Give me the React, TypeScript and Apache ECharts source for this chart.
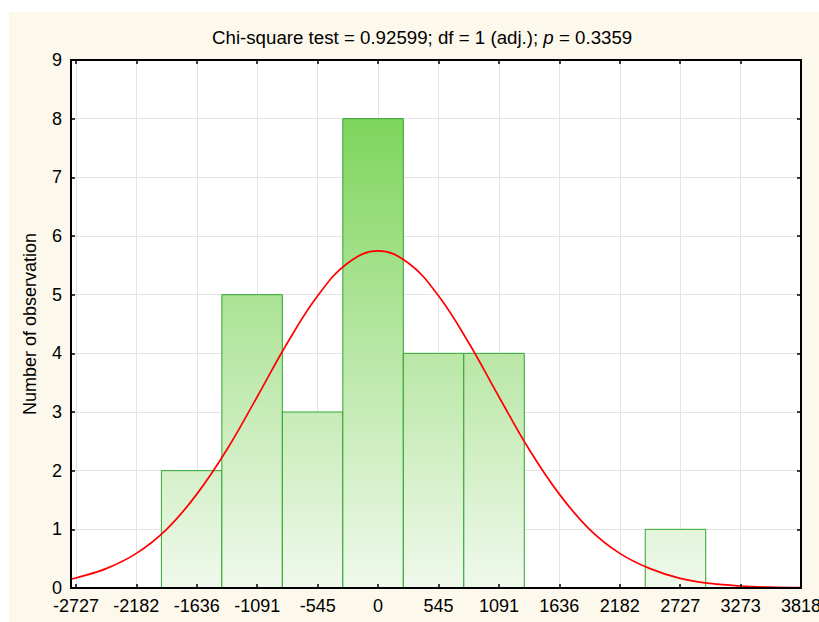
import React, { useEffect, useRef } from "react";
import * as echarts from "echarts";

// Histogram bins (class limits) and observed counts
const binStarts = [-1956, -1410, -864, -318, 228, 774, 1320, 1866, 2412];
const binEnds = [-1410, -864, -318, 228, 774, 1320, 1866, 2412, 2958];
const counts = [2, 5, 3, 8, 4, 4, 0, 0, 1];

// Tick labels
const xTicks = [-2727, -2182, -1636, -1091, -545, 0, 545, 1091, 1636, 2182, 2727, 3273, 3818];
const X_MIN = -2772;
const X_MAX = 3818;
const Y_MIN = 0;
const Y_MAX = 9;

// Expected-normal curve
const curveX = [-2772, -2727, -2455, -2182, -1909, -1636, -1364, -1091, -818, -545, -273, 0, 273, 545, 818, 1091, 1364, 1636, 1909, 2182, 2455, 2727, 3000, 3273, 3545, 3818];
const curveY = [0.15, 0.17, 0.33, 0.59, 1.0, 1.6, 2.36, 3.26, 4.18, 4.98, 5.54, 5.745, 5.54, 4.98, 4.18, 3.26, 2.36, 1.6, 1.0, 0.59, 0.33, 0.165, 0.078, 0.034, 0.014, 0.005];

const titleText = "Chi-square test = 0.92599; df = 1 (adj.); {i|p} = 0.3359";
const yName = "Number of observation";

const FONT = "'Liberation Sans', Arial, sans-serif";

export default function App() {
  const ref = useRef<HTMLDivElement>(null);
  useEffect(() => {
    if (!ref.current) return;
    const chart = echarts.init(ref.current, undefined, { renderer: "svg" });
    const barData = binStarts.map((s, i) => [s, binEnds[i], counts[i]]);
    const curveData = curveX.map((x, i) => [x, curveY[i]]);

    const axisLine = { show: true, onZero: false, lineStyle: { color: "#000", width: 2 } };
    const tickStyle = { color: "#000", width: 1.5 };

    chart.setOption({
      animation: false,
      backgroundColor: "#fdf8ec",
      textStyle: { fontFamily: FONT },
      title: {
        text: titleText,
        left: 198,
        top: 11,
        textStyle: {
          fontSize: 18.7,
          fontWeight: "normal",
          color: "#000",
          fontFamily: FONT,
          rich: { i: { fontStyle: "italic", fontSize: 18.7, color: "#000", fontFamily: FONT } },
        },
      },
      grid: {
        left: 62,
        top: 48,
        right: 18,
        bottom: 34,
        show: true,
        backgroundColor: "#ffffff",
        borderWidth: 0,
        containLabel: false,
        outerBoundsMode: "none",
      },
      xAxis: [
        {
          type: "value",
          position: "bottom",
          min: X_MIN,
          max: X_MAX,
          z: 10,
          axisLine,
          axisTick: { show: true, inside: true, length: 4, customValues: xTicks, lineStyle: tickStyle },
          axisLabel: {
            customValues: xTicks,
            formatter: (v: number) => String(Math.round(v)),
            color: "#000",
            fontSize: 18,
            margin: 9,
            fontFamily: FONT,
            showMinLabel: true,
            showMaxLabel: true,
            hideOverlap: false,
          },
          splitLine: { show: false },
        },
        {
          type: "value",
          position: "top",
          min: X_MIN,
          max: X_MAX,
          z: 0,
          axisLine,
          axisTick: { show: true, inside: true, length: 4, customValues: xTicks, lineStyle: tickStyle },
          axisLabel: { show: false, customValues: xTicks },
          splitLine: { show: true, lineStyle: { color: "#e4e4e4", width: 1 } },
        },
      ],
      yAxis: [
        {
          type: "value",
          position: "left",
          min: Y_MIN,
          max: Y_MAX,
          interval: 1,
          z: 10,
          axisLine,
          axisTick: { show: true, inside: true, length: 4, lineStyle: tickStyle },
          axisLabel: { color: "#000", fontSize: 18, margin: 9, fontFamily: FONT },
          splitLine: { show: false },
          name: yName,
          nameLocation: "middle",
          nameGap: 32,
          nameTextStyle: { fontSize: 18, color: "#000", fontFamily: FONT },
        },
        {
          type: "value",
          position: "right",
          min: Y_MIN,
          max: Y_MAX,
          interval: 1,
          z: 0,
          axisLine,
          axisTick: { show: true, inside: true, length: 4, lineStyle: tickStyle },
          axisLabel: { show: false },
          splitLine: { show: true, lineStyle: { color: "#e4e4e4", width: 1 } },
        },
      ],
      series: [
        {
          type: "custom",
          xAxisIndex: 0,
          yAxisIndex: 0,
          z: 2,
          data: barData,
          renderItem: (_params: any, api: any) => {
            const s = api.value(0);
            const e = api.value(1);
            const c = api.value(2);
            if (!c) return { type: "group", children: [] };
            const p0 = api.coord([s, c]);
            const p1 = api.coord([e, 0]);
            const yTop = api.coord([0, 8])[1];
            const yBot = api.coord([0, 0])[1];
            return {
              type: "rect",
              shape: { x: p0[0], y: p0[1], width: p1[0] - p0[0], height: p1[1] - p0[1] },
              style: {
                fill: new echarts.graphic.LinearGradient(
                  0,
                  yTop,
                  0,
                  yBot,
                  [
                    { offset: 0, color: "#7ed55c" },
                    { offset: 0.5, color: "#b9e7a6" },
                    { offset: 1, color: "#f0f9ec" },
                  ],
                  true
                ),
                stroke: "#2fa52f",
                lineWidth: 1,
              },
            };
          },
        },
        {
          type: "line",
          xAxisIndex: 0,
          yAxisIndex: 0,
          z: 5,
          data: curveData,
          smooth: 0.4,
          showSymbol: false,
          symbol: "none",
          lineStyle: { color: "#ff0000", width: 1.7 },
        },
      ],
    });
    return () => chart.dispose();
  }, []);
  return (
    <div
      ref={ref}
      style={{ position: "absolute", left: 9, top: 12, width: 810, height: 610 }}
    />
  );
}
